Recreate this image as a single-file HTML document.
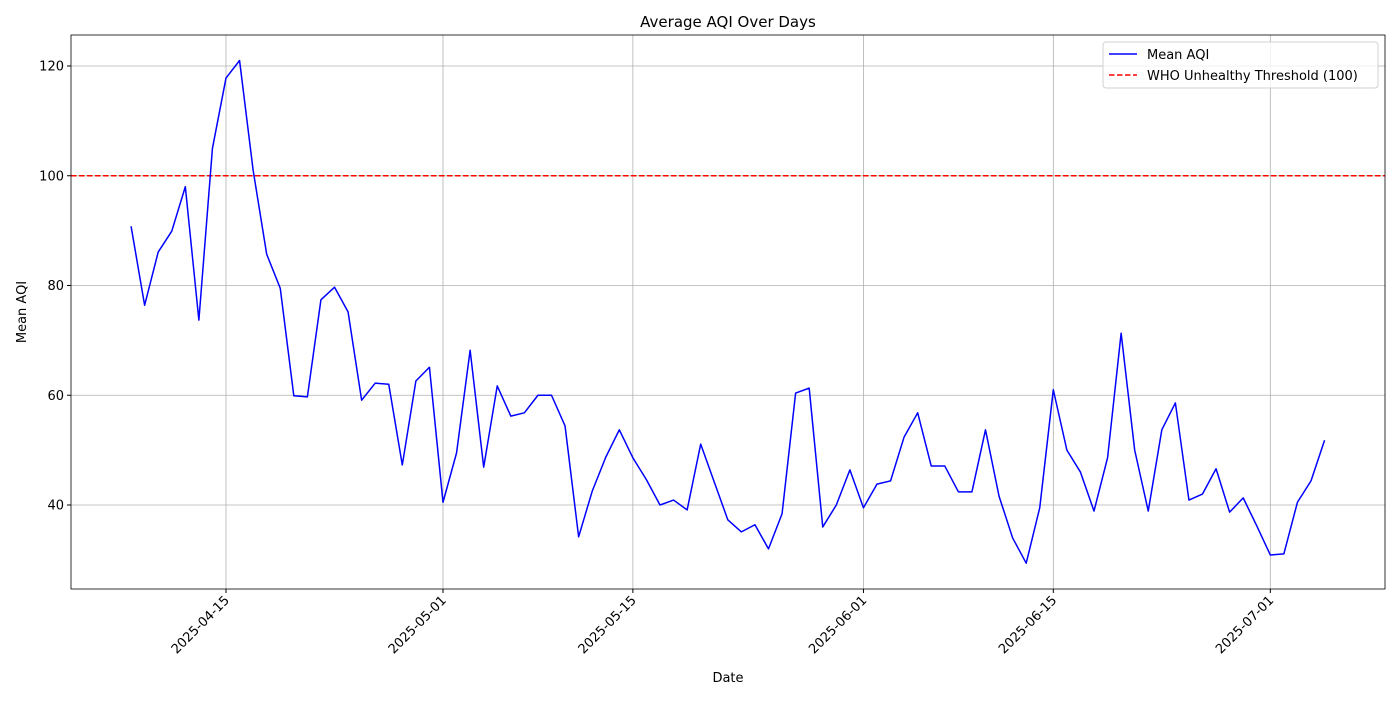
<!DOCTYPE html>
<html><head><meta charset="utf-8"><style>
body{margin:0;background:#fff;font-family:"Liberation Sans","DejaVu Sans",sans-serif;}
svg text{font-family:"DejaVu Sans","Liberation Sans",sans-serif;}
</style></head><body>
<svg id="chart" width="1400" height="700" xmlns="http://www.w3.org/2000/svg"></svg>
<script>
const startDate = "2025-04-08";
const meanAQI = [90.8,76.4,86.1,89.9,98,73.7,105,117.8,121,101,85.7,79.5,59.9,59.7,77.4,79.7,75.2,59.1,62.2,62,47.3,62.6,65.1,40.5,49.5,68.2,46.9,61.7,56.2,56.8,60,60,54.4,34.2,42.5,48.7,53.7,48.6,44.6,40,40.9,39.1,51.1,44.2,37.3,35.1,36.4,32,38.4,60.4,61.3,36,40,46.4,39.5,43.8,44.4,52.4,56.8,47.1,47.1,42.4,42.4,53.7,41.6,34,29.4,39.5,61,50,46,38.9,48.6,71.3,50,38.9,53.7,58.6,40.9,42,46.6,38.7,41.3,36.2,30.9,31.1,40.5,44.4,51.8];
const yTicks = [40,60,80,100,120];
const xTickLabels = ["2025-04-15","2025-05-01","2025-05-15","2025-06-01","2025-06-15","2025-07-01"];
const threshold = 100;

const NS="http://www.w3.org/2000/svg";
const svg=document.getElementById('chart');
const L=71,R=1385,T=35,B=589;
const DAY=86400000;
const t0=Date.parse(startDate);
const ref=Date.parse("2025-04-15");
function xScale(ms){return 226+(ms-ref)/DAY*13.5625;}
function yScale(v){return 505-(v-40)*5.4875;}
function mk(tag,attrs,txt){const e=document.createElementNS(NS,tag);for(const k in attrs)e.setAttribute(k,attrs[k]);if(txt!==undefined)e.textContent=txt;svg.appendChild(e);return e;}

// grid + ticks
yTicks.forEach(v=>{const y=yScale(v);
 const g=mk('line',{x1:L,x2:R,y1:y,y2:y,stroke:'#b0b0b0','stroke-width':0.8});
 
 mk('line',{x1:L-4,x2:L,y1:y,y2:y,stroke:'#000'});
 const t=mk('text',{x:L-7,y:y+4.5,'text-anchor':'end','font-size':13},String(v));
 
});
xTickLabels.forEach(s=>{const x=xScale(Date.parse(s));
 const g=mk('line',{x1:x,x2:x,y1:T,y2:B,stroke:'#b0b0b0','stroke-width':0.8});
 
 mk('line',{x1:x,x2:x,y1:B,y2:B+4,stroke:'#000'});
 const t=mk('text',{x:x+4,y:B+12,'text-anchor':'end','font-size':13,transform:`rotate(-45 ${x+4} ${B+12})`},s);
 
});

// threshold
const ty=yScale(threshold);
const th=mk('line',{x1:L,x2:R,y1:ty,y2:ty,stroke:'#ff0000','stroke-width':1.5,'stroke-dasharray':'5.5,2.5'});


// series
const pts=meanAQI.map((v,i)=>xScale(t0+i*DAY).toFixed(2)+','+yScale(v).toFixed(2)).join(' ');
const pl=mk('polyline',{points:pts,fill:'none',stroke:'#0000ff','stroke-width':1.5,'stroke-linejoin':'round'});


// frame
const fr=mk('rect',{x:L,y:T,width:R-L,height:B-T,fill:'none',stroke:'#000','stroke-width':0.8});


// labels
let e=mk('text',{x:728,y:27,'text-anchor':'middle','font-size':15},'Average AQI Over Days');

e=mk('text',{x:728,y:682,'text-anchor':'middle','font-size':13},'Date');

e=mk('text',{x:26,y:312,'text-anchor':'middle','font-size':13,transform:'rotate(-90 26 312)'},'Mean AQI');


// legend
e=mk('rect',{x:1103,y:42,width:275,height:46,rx:3,fill:'#fff','fill-opacity':0.8,stroke:'#d0d0d0'});

mk('line',{x1:1109,x2:1137,y1:54,y2:54,stroke:'#0000ff','stroke-width':1.5});
e=mk('text',{x:1147,y:59,'font-size':13},'Mean AQI');

mk('line',{x1:1109,x2:1137,y1:75,y2:75,stroke:'#ff0000','stroke-width':1.5,'stroke-dasharray':'5.5,2.5'});
e=mk('text',{x:1147,y:80,'font-size':13},'WHO Unhealthy Threshold (100)');

</script>
</body></html>
